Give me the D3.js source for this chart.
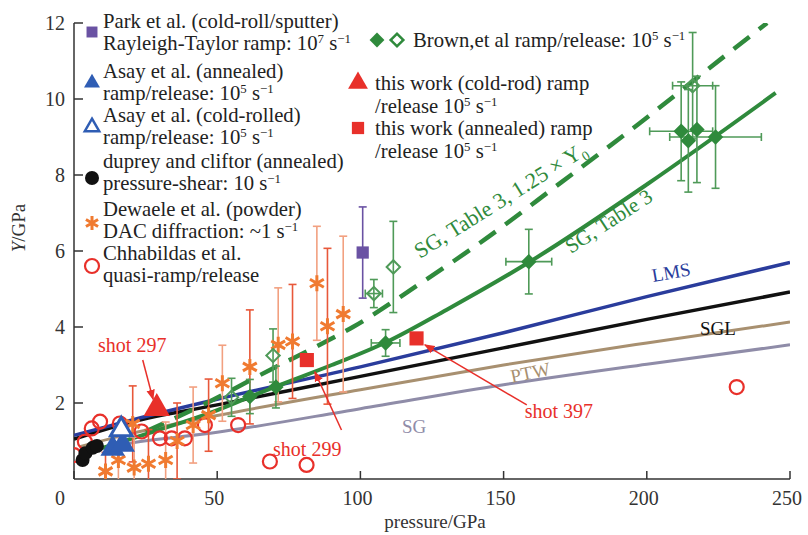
<!DOCTYPE html>
<html>
<head>
<meta charset="utf-8">
<script src="https://cdn.jsdelivr.net/npm/d3@7"></script>
<style>
  body { margin: 0; background: #fff; }
  svg { display: block; font-family: "Liberation Serif", "DejaVu Serif", serif; }
</style>
</head>
<body>
<div id="chart"></div>
<script>
// ---- data (pressure GPa, Y GPa) ----
const lmsCurve = [[0, 1.15], [20, 1.55], [50, 2.1], [100, 2.95], [150, 3.85], [200, 4.8], [250, 5.7]];
const sglCurve = [[0, 1.05], [20, 1.5], [50, 1.95], [100, 2.7], [150, 3.45], [200, 4.2], [250, 4.92]];
const ptwCurve = [[2, 0.85], [20, 1.2], [50, 1.67], [100, 2.35], [150, 3.0], [200, 3.58], [250, 4.13]];
const sgCurve = [[2, 0.7], [20, 0.95], [50, 1.23], [100, 1.85], [150, 2.48], [200, 3.02], [250, 3.53]];
const sgTable3 = [[10, 0.82], [30, 1.3], [47.5, 1.74], [62, 2.18], [71, 2.45], [90, 3.0], [109, 3.6], [130, 4.45], [159, 5.71], [200, 7.75], [245, 10.16]];
const sgTable3x125 = [[25, 1.25], [45, 1.95], [68.4, 2.87], [87, 3.58], [97.4, 4.0], [120, 5.1], [141.7, 6.21], [170, 7.8], [197.6, 9.37], [225.5, 11.03], [242, 12.0]];

// [p, Y, xErr, yErr]
const brownFilled = [[61.4, 2.17, 0, 0.45], [70.5, 2.42, 0, 0.55], [108.8, 3.58, 5, 0.35], [158.8, 5.72, 8, 0.85],
  [212, 9.15, 11, 1.3], [214.5, 8.9, 0, 1.35], [217.5, 9.2, 0, 1.4], [224, 9.0, 16, 1.35]];
const brownHollow = [[55, 2.15, 0, 0.5], [69.5, 3.25, 0, 0.7], [104.7, 4.88, 3, 0.37], [111.5, 5.58, 0, 1.2], [216, 10.35, 7, 1.4]];
// [p, Y, yErr]
const parkPts = [[100.8, 5.96, 1.2]];
const dewaelePts = [[11, 0.2, 0.5], [15.5, 0.5, 0.9], [20.5, 1.45, 1.0], [21, 0.3, 0.8], [26, 0.4, 0.9], [32, 0.5, 1.0],
  [36, 1.0, 1.0], [41.6, 1.42, 1.0], [47, 1.68, 0.95], [51.8, 2.52, 1.0], [61.4, 2.95, 1.5], [71.3, 3.53, 1.5],
  [76.3, 3.62, 1.5], [84.8, 5.15, 1.5], [88.5, 4.02, 2.05], [94, 4.34, 2.05]];
const chhabildasPts = [[0, 0.63], [3.8, 0.98], [6.2, 1.33], [9.1, 1.51], [16, 1.46], [23.6, 1.25], [30, 1.07], [34.1, 1.07],
  [38.7, 1.07], [45.7, 1.42], [57.3, 1.42], [68.4, 0.46], [81.2, 0.37], [231.4, 2.42]];
const dupreyPts = [[3, 0.5], [4, 0.68], [6.5, 0.82], [8, 0.87]];
const asayAnnealed = [[13.5, 0.8], [17, 0.9]];
const asayCold = [[16.5, 1.3]];
const thisWorkRod = [[28.9, 1.86]];
const thisWorkAnnealed = [[81.3, 3.13], [119.6, 3.7]];

const xTicks = [0, 50, 100, 150, 200, 250];
const yTicks = [2, 4, 6, 8, 10, 12];

// ---- layout ----
const W = 808, H = 535;
const x = d3.scaleLinear([0, 250], [74, 790]);
const y = d3.scaleLinear([0, 12], [479, 23]);

const RED = "#e8302a", GREEN = "#2f8a3c", GREEN_EB = "#4f9a58", ORANGE = "#f07a30";
const BLUE = "#2f5db4", PURPLE = "#6a52a3";

const svg = d3.select("#chart").append("svg").attr("width", W).attr("height", H);

svg.append("defs").append("clipPath").attr("id", "plot")
  .append("rect").attr("x", x(0)).attr("y", y(12)).attr("width", x(250) - x(0)).attr("height", y(0) - y(12));
svg.select("defs").append("marker").attr("id", "arr")
  .attr("viewBox", "0 0 10 10").attr("refX", 9).attr("refY", 5)
  .attr("markerWidth", 7).attr("markerHeight", 7).attr("orient", "auto-start-reverse")
  .append("path").attr("d", "M0,1L10,5L0,9z").attr("fill", RED);

// superscript / subscript helper: "10^{5} s^{−1}", "Y_{0}"
function rich(t, str, fs) {
  let cur = 0;
  str.split(/(\^\{[^}]*\}|_\{[^}]*\})/).forEach(p => {
    if (!p) return;
    let target = 0, content = p, small = false;
    if (p[0] === "^") { target = -fs * 0.32; content = p.slice(2, -1); small = true; }
    else if (p[0] === "_") { target = fs * 0.22; content = p.slice(2, -1); small = true; }
    const ts = t.append("tspan").attr("dy", target - cur).text(content);
    if (small) ts.attr("font-size", fs * 0.62);
    cur = target;
  });
}

// ---- axes ----
const axisG = svg.append("g").attr("stroke", "#333").attr("stroke-width", 1.5);
axisG.append("line").attr("x1", x(0)).attr("x2", x(250)).attr("y1", y(0)).attr("y2", y(0));
axisG.append("line").attr("x1", x(0)).attr("x2", x(0)).attr("y1", y(0)).attr("y2", y(12));
axisG.selectAll(".xt").data(xTicks).join("line")
  .attr("x1", d => x(d)).attr("x2", d => x(d)).attr("y1", y(0)).attr("y2", y(0) - 8);
axisG.selectAll(".yt").data(yTicks).join("line")
  .attr("x1", x(0)).attr("x2", x(0) + 9).attr("y1", d => y(d)).attr("y2", d => y(d));

svg.selectAll(".xl").data(xTicks).join("text")
  .attr("x", d => x(d) - (d === 0 ? 14 : 3)).attr("y", 505)
  .attr("text-anchor", "middle").attr("font-size", 20).attr("fill", "#333").text(d => d);
svg.selectAll(".yl").data(yTicks).join("text")
  .attr("x", x(0) - 9).attr("y", d => y(d) + 7)
  .attr("text-anchor", "end").attr("font-size", 20).attr("fill", "#333").text(d => d);

svg.append("text").attr("x", 435).attr("y", 528).attr("text-anchor", "middle")
  .attr("font-size", 19).attr("fill", "#333").text("pressure/GPa");
const yt = svg.append("text").attr("transform", "translate(25,228) rotate(-90)")
  .attr("text-anchor", "middle").attr("font-size", 19).attr("fill", "#333");
yt.append("tspan").attr("font-style", "italic").text("Y");
yt.append("tspan").text("/GPa");

// ---- model curves ----
const line = d3.line().x(d => x(d[0])).y(d => y(d[1])).curve(d3.curveMonotoneX);
const curves = svg.append("g").attr("clip-path", "url(#plot)").attr("fill", "none");
curves.append("path").datum(sgCurve).attr("d", line).attr("stroke", "#8f8ca8").attr("stroke-width", 3);
curves.append("path").datum(ptwCurve).attr("d", line).attr("stroke", "#a89070").attr("stroke-width", 3);
curves.append("path").datum(sglCurve).attr("d", line).attr("stroke", "#111").attr("stroke-width", 3.5);
curves.append("path").datum(lmsCurve).attr("d", line).attr("stroke", "#2a3c9c").attr("stroke-width", 3.5);
curves.append("path").datum(sgTable3).attr("d", line).attr("stroke", GREEN).attr("stroke-width", 4);
curves.append("path").datum(sgTable3x125).attr("d", line).attr("stroke", GREEN).attr("stroke-width", 4.5)
  .attr("stroke-dasharray", "20 12");

// curve labels
function label(txt, px, py, rot, color, fs) {
  const t = svg.append("text").attr("transform", `translate(${px},${py}) rotate(${rot})`)
    .attr("font-size", fs).attr("fill", color);
  rich(t, txt, fs);
}
label("LMS", 653, 282, -10, "#2a3c9c", 19);
label("SGL", 700, 335, 0, "#111", 19);
label("PTW", 512, 383, -12, "#a89070", 19);
label("SG", 402, 433, 0, "#8f8ca8", 19);
label("SG, Table 3", 571, 254, -33, GREEN, 21);
label("SG, Table 3, 1.25 × Y_{0}", 420, 259, -32, GREEN, 22);

// ---- error bars helper ----
function errBars(g, data, color, width, cap) {
  data.forEach(d => {
    const [p, v, ex, ey] = d;
    if (ey) {
      g.append("line").attr("x1", x(p)).attr("x2", x(p)).attr("y1", y(v - ey)).attr("y2", y(v + ey));
      [v - ey, v + ey].forEach(e => g.append("line").attr("x1", x(p) - cap).attr("x2", x(p) + cap).attr("y1", y(e)).attr("y2", y(e)));
    }
    if (ex) {
      g.append("line").attr("x1", x(p - ex)).attr("x2", x(p + ex)).attr("y1", y(v)).attr("y2", y(v));
      [p - ex, p + ex].forEach(e => g.append("line").attr("x1", x(e)).attr("x2", x(e)).attr("y1", y(v) - cap).attr("y2", y(v) + cap));
    }
  });
  g.attr("stroke", color).attr("stroke-width", width);
}

const pts = svg.append("g").attr("clip-path", "url(#plot)");

// Dewaele error bars (alternating red / salmon)
const dwEb = pts.append("g");
dewaelePts.forEach((d, i) => {
  const g = dwEb.append("g");
  errBars(g, [[d[0], d[1], 0, d[2]]], i % 2 ? "#f2a080" : "#e8583a", 1.6, 4);
});

// Brown + Park error bars
errBars(pts.append("g"), brownFilled.concat(brownHollow), GREEN_EB, 1.6, 4);
errBars(pts.append("g"), parkPts.map(d => [d[0], d[1], 0, d[2]]), PURPLE, 1.6, 4);

const sym = (type, size) => d3.symbol().type(type).size(size)();
const asterisk = r => {
  let s = "";
  for (let k = 0; k < 3; k++) {
    const a = Math.PI / 2 + k * Math.PI / 3;
    s += `M${r * Math.cos(a)},${r * Math.sin(a)}L${-r * Math.cos(a)},${-r * Math.sin(a)}`;
  }
  return s;
};

// Chhabildas hollow circles
pts.selectAll(".ch").data(chhabildasPts).join("circle")
  .attr("cx", d => x(d[0])).attr("cy", d => y(d[1])).attr("r", 7)
  .attr("fill", "none").attr("stroke", RED).attr("stroke-width", 2.2);

// Dewaele asterisks
pts.selectAll(".dw").data(dewaelePts).join("path")
  .attr("transform", d => `translate(${x(d[0])},${y(d[1])})`)
  .attr("d", asterisk(8)).attr("stroke", ORANGE).attr("stroke-width", 3).attr("fill", "none");

// Duprey black circles
pts.selectAll(".dp").data(dupreyPts).join("circle")
  .attr("cx", d => x(d[0])).attr("cy", d => y(d[1])).attr("r", 7).attr("fill", "#111");

// Asay
pts.selectAll(".aa").data(asayAnnealed).join("path")
  .attr("transform", d => `translate(${x(d[0])},${y(d[1])})`)
  .attr("d", sym(d3.symbolTriangle, 260)).attr("fill", BLUE);
pts.selectAll(".ac").data(asayCold).join("path")
  .attr("transform", d => `translate(${x(d[0])},${y(d[1])})`)
  .attr("d", sym(d3.symbolTriangle, 200)).attr("fill", "#fff").attr("stroke", BLUE).attr("stroke-width", 3);

// Brown diamonds
pts.selectAll(".bf").data(brownFilled).join("path")
  .attr("transform", d => `translate(${x(d[0])},${y(d[1])}) rotate(45)`)
  .attr("d", sym(d3.symbolSquare, 120)).attr("fill", GREEN);
pts.selectAll(".bh").data(brownHollow).join("path")
  .attr("transform", d => `translate(${x(d[0])},${y(d[1])}) rotate(45)`)
  .attr("d", sym(d3.symbolSquare, 90)).attr("fill", "none").attr("stroke", GREEN_EB).attr("stroke-width", 2);

// Park
pts.selectAll(".pk").data(parkPts).join("path")
  .attr("transform", d => `translate(${x(d[0])},${y(d[1])})`)
  .attr("d", sym(d3.symbolSquare, 150)).attr("fill", PURPLE);

// this work
pts.selectAll(".tr").data(thisWorkRod).join("path")
  .attr("transform", d => `translate(${x(d[0])},${y(d[1])})`)
  .attr("d", sym(d3.symbolTriangle, 300)).attr("fill", RED);
pts.selectAll(".ts").data(thisWorkAnnealed).join("path")
  .attr("transform", d => `translate(${x(d[0])},${y(d[1])})`)
  .attr("d", sym(d3.symbolSquare, 200)).attr("fill", RED);

// ---- shot annotations ----
const shots = [
  { text: "shot 297", tx: 8.4, ty: 3.34, from: [24, 3.13], to: [27.6, 2.1] },
  { text: "shot 299", tx: 69.5, ty: 0.6, from: [93.4, 1.29], to: [84.1, 2.82] },
  { text: "shot 397", tx: 157.4, ty: 1.6, from: [158.1, 1.95], to: [122.5, 3.53] }
];
shots.forEach(s => {
  svg.append("line").attr("x1", x(s.from[0])).attr("y1", y(s.from[1]))
    .attr("x2", x(s.to[0])).attr("y2", y(s.to[1]))
    .attr("stroke", RED).attr("stroke-width", 1.5).attr("marker-end", "url(#arr)");
  svg.append("text").attr("x", x(s.tx)).attr("y", y(s.ty))
    .attr("font-size", 20).attr("fill", RED).text(s.text);
});

// ---- legend ----
const FS = 20.7;
const leftLegend = [
  { lines: ["Park et al. (cold-roll/sputter)", "Rayleigh-Taylor ramp: 10^{7} s^{−1}"], y: 28, my: 32, m: "park" },
  { lines: ["Asay et al. (annealed)", "ramp/release: 10^{5} s^{−1}"], y: 78, my: 83, m: "asayA" },
  { lines: ["Asay et al. (cold-rolled)", "ramp/release: 10^{5} s^{−1}"], y: 122, my: 127, m: "asayC" },
  { lines: ["duprey and cliftor (annealed)", "pressure-shear: 10 s^{−1}"], y: 168, my: 178, m: "duprey" },
  { lines: ["Dewaele et al. (powder)", "DAC diffraction: ~1 s^{−1}"], y: 216, my: 223, m: "dewaele" },
  { lines: ["Chhabildas et al.", "quasi-ramp/release"], y: 260, my: 266, m: "chh" }
];
const lg = svg.append("g");
function marker(g, m, cx, cy) {
  const t = `translate(${cx},${cy})`;
  if (m === "park") g.append("path").attr("transform", t).attr("d", sym(d3.symbolSquare, 120)).attr("fill", PURPLE);
  if (m === "asayA") g.append("path").attr("transform", t).attr("d", sym(d3.symbolTriangle, 110)).attr("fill", BLUE);
  if (m === "asayC") g.append("path").attr("transform", t).attr("d", sym(d3.symbolTriangle, 90)).attr("fill", "#fff").attr("stroke", BLUE).attr("stroke-width", 2.5);
  if (m === "duprey") g.append("circle").attr("cx", cx).attr("cy", cy).attr("r", 7).attr("fill", "#111");
  if (m === "dewaele") g.append("path").attr("transform", t).attr("d", asterisk(7)).attr("stroke", ORANGE).attr("stroke-width", 3);
  if (m === "chh") g.append("circle").attr("cx", cx).attr("cy", cy).attr("r", 7).attr("fill", "none").attr("stroke", RED).attr("stroke-width", 2.2);
  if (m === "brownF") g.append("path").attr("transform", t + " rotate(45)").attr("d", sym(d3.symbolSquare, 110)).attr("fill", GREEN);
  if (m === "brownH") g.append("path").attr("transform", t + " rotate(45)").attr("d", sym(d3.symbolSquare, 80)).attr("fill", "none").attr("stroke", GREEN).attr("stroke-width", 2.5);
  if (m === "rodT") g.append("path").attr("transform", t).attr("d", sym(d3.symbolTriangle, 170)).attr("fill", RED);
  if (m === "annS") g.append("path").attr("transform", t).attr("d", sym(d3.symbolSquare, 150)).attr("fill", RED);
}
leftLegend.forEach(e => {
  marker(lg, e.m, 92, e.my);
  e.lines.forEach((l, i) => {
    const t = lg.append("text").attr("x", 103).attr("y", e.y + i * 21.5).attr("font-size", FS).attr("fill", "#222");
    rich(t, l, FS);
  });
});

const rightLegend = [
  { lines: ["this work (cold-rod) ramp", "/release 10^{5} s^{−1}"], y: 90, my: 83, m: "rodT" },
  { lines: ["this work (annealed) ramp", "/release 10^{5} s^{−1}"], y: 135, my: 128, m: "annS" }
];
marker(lg, "brownF", 377, 40);
marker(lg, "brownH", 397, 40);
const bt = lg.append("text").attr("x", 413).attr("y", 47).attr("font-size", FS).attr("fill", "#222");
rich(bt, "Brown,et al ramp/release: 10^{5} s^{−1}", FS);
rightLegend.forEach(e => {
  marker(lg, e.m, 358, e.my);
  e.lines.forEach((l, i) => {
    const t = lg.append("text").attr("x", 375).attr("y", e.y + i * 23).attr("font-size", FS).attr("fill", "#222");
    rich(t, l, FS);
  });
});
</script>
</body>
</html>
